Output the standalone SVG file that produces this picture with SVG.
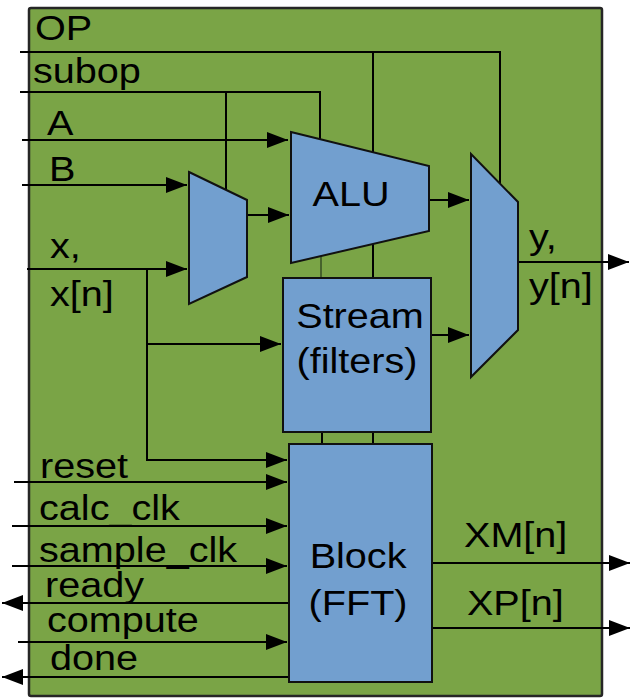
<svg xmlns="http://www.w3.org/2000/svg" width="638" height="698" viewBox="0 0 638 698">
<style>
.bg{fill:#7aa446;stroke:#262626;stroke-width:2.5}
.blk{fill:#729fcf;stroke:#111;stroke-width:2}
.w{fill:none;stroke:#000;stroke-width:2}
.t{font-family:"Liberation Sans",Arial,sans-serif;font-size:36px;fill:#000}
.c{text-anchor:middle}
</style>
<defs>
<marker id="arr" viewBox="0 0 21 16" refX="21" refY="8" markerWidth="21" markerHeight="16" markerUnits="userSpaceOnUse" orient="auto">
<path d="M0,0 L21,8 L0,16 Z" fill="#000"/>
</marker>
</defs>
<rect class="bg" x="29" y="8" width="573" height="688" rx="2"/>
<g id="connectors">
<path class="w" d="M20,52 H500 V186"/>
<path class="w" d="M373,52 V444"/>
<path class="w" d="M20,92 H320 V140"/>
<path d="M321,255 V278" fill="none" stroke="#46622c" stroke-width="2"/>
<path class="w" d="M322,432 V444"/>
<path class="w" d="M226,92 V192"/>
<path class="w" d="M22,140 H288" marker-end="url(#arr)"/>
<path class="w" d="M22,185 H187" marker-end="url(#arr)"/>
<path class="w" d="M27,269 H187" marker-end="url(#arr)"/>
<path class="w" d="M147,269 V460 H287" marker-end="url(#arr)"/>
<path class="w" d="M147,344 H281" marker-end="url(#arr)"/>
<path class="w" d="M247,215 H289" marker-end="url(#arr)"/>
<path class="w" d="M429,200 H469" marker-end="url(#arr)"/>
<path class="w" d="M431,335 H469" marker-end="url(#arr)"/>
<path class="w" d="M518,262 H629" marker-end="url(#arr)"/>
<path class="w" d="M14,482 H287" marker-end="url(#arr)"/>
<path class="w" d="M12,526 H287" marker-end="url(#arr)"/>
<path class="w" d="M12,566 H287" marker-end="url(#arr)"/>
<path class="w" d="M289,603 H2" marker-end="url(#arr)"/>
<path class="w" d="M18,642 H287" marker-end="url(#arr)"/>
<path class="w" d="M289,677 H2" marker-end="url(#arr)"/>
<path class="w" d="M432,563 H630" marker-end="url(#arr)"/>
<path class="w" d="M432,628 H630" marker-end="url(#arr)"/>
</g>
<g id="mux1">
<polygon class="blk" points="189,172 247,200 247,277 189,304"/>
</g>
<g id="alu">
<polygon class="blk" points="291,132 429,166 429,231 291,263"/>
<text class="t c" transform="scale(1.1 1)" x="319.1" y="206">ALU</text>
</g>
<g id="mux2">
<polygon class="blk" points="471,154 518,202 518,330 471,377"/>
</g>
<g id="stream">
<rect class="blk" x="283" y="278" width="148" height="154"/>
<text class="t c" transform="scale(1.1 1)" x="327.3" y="328">Stream</text>
<text class="t c" transform="scale(1.1 1)" x="324.5" y="373">(filters)</text>
</g>
<g id="block">
<rect class="blk" x="289" y="444" width="143" height="238"/>
<text class="t c" transform="scale(1.1 1)" x="325.5" y="568">Block</text>
<text class="t c" transform="scale(1.1 1)" x="325.5" y="615">(FFT)</text>
</g>
<g id="labels" transform="scale(1.1 1)">
<text class="t" x="31.8" y="40">OP</text>
<text class="t" x="30" y="83">subop</text>
<text class="t" x="42.7" y="135">A</text>
<text class="t" x="44.5" y="181">B</text>
<text class="t" x="45.5" y="258">x,</text>
<text class="t" x="45.5" y="306">x[n]</text>
<text class="t" x="480.9" y="249">y,</text>
<text class="t" x="480.9" y="298">y[n]</text>
<text class="t" x="36.4" y="478">reset</text>
<text class="t" x="35.5" y="520">calc_clk</text>
<text class="t" x="35.5" y="562">sample_clk</text>
<text class="t" x="40.9" y="597">ready</text>
<text class="t" x="42.7" y="632">compute</text>
<text class="t" x="45.5" y="670">done</text>
<text class="t" x="421.8" y="547">XM[n]</text>
<text class="t" x="424.5" y="615">XP[n]</text>
</g>
</svg>
